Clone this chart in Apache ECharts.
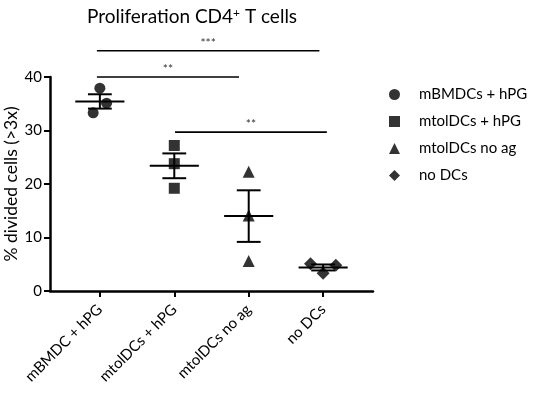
<!DOCTYPE html>
<html>
<head>
<meta charset="utf-8">
<script src="https://cdn.jsdelivr.net/npm/echarts@6/dist/echarts.min.js"></script>
<style>
  html, body { margin: 0; padding: 0; background: #fff; }
  #main { width: 536px; height: 397px; }
</style>
</head>
<body>
<div id="main"></div>
<script>
// groups on the x axis
var categories = ['mBMDC + hPG', 'mtolDCs + hPG', 'mtolDCs no ag', 'no DCs'];
var legendNames = ['mBMDCs + hPG', 'mtolDCs + hPG', 'mtolDCs no ag', 'no DCs'];
var symbols = ['circle', 'rect', 'triangle', 'diamond'];

// % divided cells
var valsBMDC = [37.9, 35.1, 33.3];
var valsTolHpg = [27.2, 23.8, 19.2];
var valsTolNoAg = [22.3, 14.1, 5.6];
var valsNoDC = [5.1, 4.8, 3.3];
var groupValues = [valsBMDC, valsTolHpg, valsTolNoAg, valsNoDC];

// horizontal jitter of the dots (in category units)
var jitter = [
  [0, 0.09, -0.09],
  [0, 0, 0],
  [0, 0, 0],
  [-0.17, 0.17, 0]
];

var yTicks = [0, 10, 20, 30, 40];

// significance brackets: from group, to group, height, label
var sigBars = [
  { x1: -0.04, x2: 2.95, y: 44.9, text: '***' },
  { x1: -0.04, x2: 1.87, y: 40.0, text: '**' },
  { x1: 1.01, x2: 3.05, y: 29.7, text: '**' }
];

function mean(a) {
  var s = 0;
  a.forEach(function (v) { s += v; });
  return s / a.length;
}
function sem(a) {
  var m = mean(a), s = 0;
  a.forEach(function (v) { s += (v - m) * (v - m); });
  return Math.sqrt(s / (a.length - 1)) / Math.sqrt(a.length);
}

var font = 'Lato';
var myChart = echarts.init(document.getElementById('main'));

var series = [];
groupValues.forEach(function (vals, g) {
  series.push({
    name: legendNames[g],
    type: 'scatter',
    symbol: symbols[g],
    symbolSize: g === 2 ? 12 : (g === 3 ? 13 : 11),
    itemStyle: { color: '#000' },
    z: 3,
    data: vals.map(function (v, i) { return [g + jitter[g][i], v]; })
  });
});

// mean +/- SEM
var errData = groupValues.map(function (vals, g) {
  var m = mean(vals), e = sem(vals);
  return [g, m, m - e, m + e];
});
series.push({
  type: 'custom',
  silent: true,
  z: 4,
  encode: { x: 0, y: [1, 2, 3] },
  data: errData,
  renderItem: function (params, api) {
    var x = api.value(0), m = api.value(1), lo = api.value(2), hi = api.value(3);
    var st = { stroke: '#000', lineWidth: 2 };
    function seg(xa, ya, xb, yb) {
      var p1 = api.coord([xa, ya]), p2 = api.coord([xb, yb]);
      return { type: 'line', shape: { x1: p1[0], y1: p1[1], x2: p2[0], y2: p2[1] }, style: st };
    }
    return {
      type: 'group',
      children: [
        seg(x - 0.33, m, x + 0.33, m),
        seg(x, lo, x, hi),
        seg(x - 0.16, lo, x + 0.16, lo),
        seg(x - 0.16, hi, x + 0.16, hi)
      ]
    };
  }
});

// significance brackets
series.push({
  type: 'custom',
  silent: true,
  clip: false,
  encode: { x: [0, 1], y: 2 },
  data: sigBars.map(function (b) { return [b.x1, b.x2, b.y]; }),
  renderItem: function (params, api) {
    var p1 = api.coord([api.value(0), api.value(2)]);
    var p2 = api.coord([api.value(1), api.value(2)]);
    var b = sigBars[params.dataIndex];
    return {
      type: 'group',
      children: [
        { type: 'line', shape: { x1: p1[0], y1: p1[1], x2: p2[0], y2: p2[1] },
          style: { stroke: '#000', lineWidth: 1.6 } },
        { type: 'text', x: (p1[0] + p2[0]) / 2, y: p1[1] - 2,
          style: { text: b.text, fill: '#333', font: '12px ' + font,
                   align: 'center', verticalAlign: 'bottom' } }
      ]
    };
  }
});

myChart.setOption({
  animation: false,
  backgroundColor: '#fff',
  textStyle: { fontFamily: font, color: '#000' },
  title: {
    text: 'Proliferation CD4{sup|+} T cells',
    left: 187,
    textAlign: 'center',
    top: 2,
    textStyle: {
      fontFamily: font, fontSize: 19, fontWeight: 'normal', color: '#000',
      rich: {
        sup: { fontSize: 12, fontFamily: font, verticalAlign: 'top', padding: [0, 0, 8, 0], color: '#000' }
      }
    }
  },
  legend: {
    orient: 'vertical',
    left: 384,
    top: 82,
    itemGap: 12,
    itemWidth: 11,
    itemHeight: 11,
    textStyle: { fontFamily: font, fontSize: 15, color: '#000', padding: [0, 0, 0, 14] },
    data: legendNames.map(function (n, i) { return { name: n, icon: symbols[i] }; })
  },
  grid: { left: 50, right: 163, top: 77, bottom: 106, containLabel: false, outerBoundsMode: 'none' },
  xAxis: {
    type: 'value',
    min: -0.67,
    max: 3.67,
    splitLine: { show: false },
    axisLine: { show: true, onZero: false, lineStyle: { color: '#000', width: 2.5 } },
    axisTick: { show: true, length: 6, customValues: [0, 1, 2, 3], lineStyle: { color: '#000', width: 2 } },
    axisLabel: {
      customValues: [0, 1, 2, 3],
      rotate: 45,
      margin: 16,
      fontFamily: font,
      fontSize: 15,
      color: '#000',
      formatter: function (v) { return categories[Math.round(v)]; }
    }
  },
  yAxis: {
    type: 'value',
    min: 0,
    max: 40,
    interval: 10,
    name: '% divided cells (>3x)',
    nameLocation: 'middle',
    nameGap: 30,
    nameMoveOverlap: false,
    nameTextStyle: { fontFamily: font, fontSize: 17.5, color: '#000' },
    splitLine: { show: false },
    axisLine: { show: true, onZero: false, lineStyle: { color: '#000', width: 2.5 } },
    axisTick: { show: true, length: 6, lineStyle: { color: '#000', width: 2 } },
    axisLabel: {
      fontFamily: font, fontSize: 15, color: '#000', margin: 8,
      customValues: yTicks
    }
  },
  series: series
});
</script>
</body>
</html>
